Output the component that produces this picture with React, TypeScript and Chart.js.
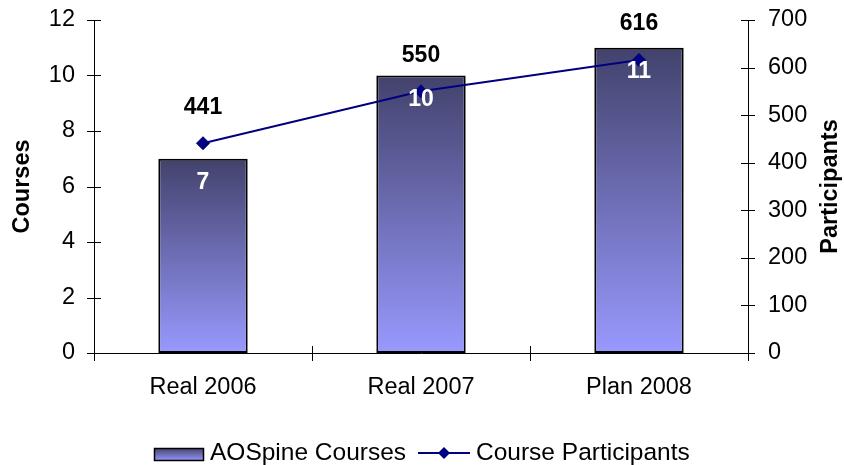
import React, { useEffect, useRef } from "react";
import { Chart, registerables } from "chart.js";

Chart.register(...registerables);

const categories = ["Real 2006", "Real 2007", "Plan 2008"];
const courses = [7, 10, 11];
const participants = [441, 550, 616];
const seriesNames = ["AOSpine Courses", "Course Participants"];
const leftAxisTitle = "Courses";
const rightAxisTitle = "Participants";

const FONT = "'Liberation Sans', Arial, Helvetica, sans-serif";
const DARK = "rgb(66,66,108)";
const LIGHT = "rgb(153,153,255)";
const NAVY = "#000080";

function drawDiamond(ctx: CanvasRenderingContext2D, x: number, y: number, r: number) {
  ctx.beginPath();
  ctx.moveTo(x - r, y);
  ctx.lineTo(x, y - r);
  ctx.lineTo(x + r, y);
  ctx.lineTo(x, y + r);
  ctx.closePath();
  ctx.fill();
}

const overlayPlugin = {
  id: "overlay",
  afterDatasetsDraw(chart: any) {
    const ctx = chart.ctx as CanvasRenderingContext2D;
    const barMeta = chart.getDatasetMeta(0);
    const lineMeta = chart.getDatasetMeta(1);
    ctx.save();
    ctx.textAlign = "center";
    ctx.textBaseline = "middle";
    ctx.font = `bold 23px ${FONT}`;
    ctx.fillStyle = "#ffffff";
    barMeta.data.forEach((el: any, i: number) => {
      ctx.fillText(String(courses[i]), el.x, el.y + 24);
    });
    ctx.fillStyle = "#000000";
    lineMeta.data.forEach((el: any, i: number) => {
      ctx.fillText(String(participants[i]), el.x, el.y - 36);
    });
    ctx.restore();
  },
  afterDraw(chart: any) {
    const ctx = chart.ctx as CanvasRenderingContext2D;
    const area = chart.chartArea;
    const y = chart.scales.y;
    const y1 = chart.scales.y1;
    ctx.save();
    ctx.strokeStyle = "#000";
    ctx.lineWidth = 1;
    y.ticks.forEach((t: any) => {
      const py = Math.round(y.getPixelForValue(t.value)) + 0.5;
      ctx.beginPath();
      ctx.moveTo(area.left - 7, py);
      ctx.lineTo(area.left + 7, py);
      ctx.stroke();
    });
    y1.ticks.forEach((t: any) => {
      const py = Math.round(y1.getPixelForValue(t.value)) + 0.5;
      ctx.beginPath();
      ctx.moveTo(area.right - 7, py);
      ctx.lineTo(area.right + 7, py);
      ctx.stroke();
    });
    const n = categories.length;
    for (let i = 0; i <= n; i++) {
      const px = Math.round(area.left + (i * (area.right - area.left)) / n) + 0.5;
      ctx.beginPath();
      ctx.moveTo(px, area.bottom - 7);
      ctx.lineTo(px, area.bottom + 8);
      ctx.stroke();
    }
    ctx.fillStyle = "#000";
    ctx.font = `bold 23.5px ${FONT}`;
    ctx.textAlign = "center";
    ctx.textBaseline = "middle";
    const cy = (area.top + area.bottom) / 2;
    ctx.save();
    ctx.translate(23, cy);
    ctx.rotate(-Math.PI / 2);
    ctx.fillText(leftAxisTitle, 0, 0);
    ctx.restore();
    ctx.save();
    ctx.translate(831, cy);
    ctx.rotate(-Math.PI / 2);
    ctx.fillText(rightAxisTitle, 0, 0);
    ctx.restore();

    const ly = 454;
    const g = ctx.createLinearGradient(0, 448, 0, 461);
    g.addColorStop(0, DARK);
    g.addColorStop(1, LIGHT);
    ctx.fillStyle = g;
    ctx.fillRect(154, 448, 50, 13);
    ctx.lineWidth = 1.5;
    ctx.strokeStyle = "#000";
    ctx.strokeRect(154.5, 448.5, 49, 12);
    ctx.font = `24.5px ${FONT}`;
    ctx.fillStyle = "#000";
    ctx.textAlign = "left";
    ctx.textBaseline = "middle";
    ctx.fillText(seriesNames[0], 210, ly - 1);
    ctx.strokeStyle = NAVY;
    ctx.lineWidth = 2;
    ctx.beginPath();
    ctx.moveTo(418, ly - 1);
    ctx.lineTo(470, ly - 1);
    ctx.stroke();
    ctx.fillStyle = NAVY;
    drawDiamond(ctx, 444, ly - 1, 6);
    ctx.fillStyle = "#000";
    ctx.fillText(seriesNames[1], 476, ly - 1);
    ctx.restore();
  },
};

function fixVertical(width: number) {
  return (s: any) => {
    s.width = width;
    s.paddingTop = 0;
    s.paddingBottom = 0;
  };
}

export default function App() {
  const ref = useRef<HTMLCanvasElement>(null);

  useEffect(() => {
    if (!ref.current) return;
    Chart.defaults.font.family = FONT;
    const chart = new Chart(ref.current, {
      type: "bar",
      data: {
        labels: categories,
        datasets: [
          {
            type: "bar",
            label: seriesNames[0],
            data: courses,
            yAxisID: "y",
            order: 1,
            barPercentage: 0.41,
            categoryPercentage: 1,
            borderColor: "#000",
            borderWidth: 2,
            borderSkipped: false,
            backgroundColor: (c: any) => {
              const chart = c.chart;
              if (!chart.chartArea || c.raw === undefined) return LIGHT;
              const ys = chart.scales.y;
              const top = ys.getPixelForValue(c.raw);
              const bottom = ys.getPixelForValue(0);
              const g = chart.ctx.createLinearGradient(0, top, 0, bottom);
              g.addColorStop(0, DARK);
              g.addColorStop(1, LIGHT);
              return g;
            },
          } as any,
          {
            type: "line",
            label: seriesNames[1],
            data: participants,
            yAxisID: "y1",
            order: 0,
            borderColor: NAVY,
            borderWidth: 2,
            pointStyle: "rectRot",
            pointRadius: 6.5,
            pointBackgroundColor: NAVY,
            pointBorderColor: NAVY,
            pointBorderWidth: 1,
            tension: 0,
          } as any,
        ],
      },
      options: {
        responsive: false,
        devicePixelRatio: 1,
        animation: false,
        layout: { padding: { top: 20, left: 0, right: 0, bottom: 0 } },
        plugins: {
          legend: { display: false },
          tooltip: { enabled: false },
        },
        scales: {
          x: {
            grid: { display: false, drawTicks: false },
            border: { display: true, color: "#000", width: 1 },
            ticks: { color: "#000", font: { size: 23.5, family: FONT }, padding: 20 },
            afterFit: (s: any) => {
              s.height = 112;
              s.paddingLeft = 0;
              s.paddingRight = 0;
            },
          },
          y: {
            position: "left",
            min: 0,
            max: 12,
            grid: { display: false, drawTicks: false },
            border: { display: true, color: "#000", width: 1 },
            ticks: { stepSize: 2, color: "#000", font: { size: 23.5, family: FONT }, padding: 19 },
            afterFit: fixVertical(94),
          },
          y1: {
            position: "right",
            min: 0,
            max: 700,
            grid: { display: false, drawTicks: false },
            border: { display: true, color: "#000", width: 1 },
            ticks: { stepSize: 100, color: "#000", font: { size: 23.5, family: FONT }, padding: 20 },
            afterFit: fixVertical(96),
          },
        },
      } as any,
      plugins: [overlayPlugin],
    });
    return () => chart.destroy();
  }, []);

  return (
    <canvas
      ref={ref}
      width={844}
      height={465}
      style={{ position: "fixed", left: 0, top: 0, width: 844, height: 465 }}
    />
  );
}
